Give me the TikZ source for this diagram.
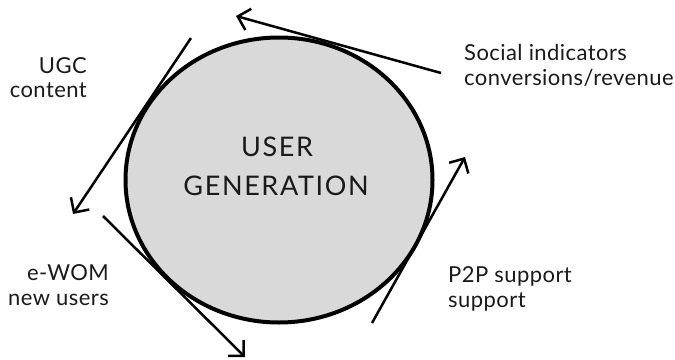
\documentclass[tikz,border=0pt]{standalone}
\usepackage{fontspec}
\setmainfont{Lato}
\usetikzlibrary{arrows.meta,shapes.geometric}
\definecolor{hubfill}{HTML}{D9D9D9}
\definecolor{txt}{HTML}{1A1A1A}
\tikzset{
  hub/.style={ellipse, draw=black, line width=4pt, fill=hubfill,
    minimum width=307pt, minimum height=285pt, inner sep=0pt},
  flow/.style={line width=2.5pt, -{Straight Barb[length=11pt,width=22pt,line width=2.5pt]}},
  lbl/.style={font=\fontsize{22}{25}\selectfont\addfontfeatures{LetterSpace=2}, text=txt, inner sep=0pt},
  hubtxt/.style={font=\fontsize{27}{39}\selectfont\addfontfeatures{LetterSpace=6}, text=txt, inner sep=0pt, anchor=base}
}
\begin{document}
\begin{tikzpicture}[x=1pt,y=-1pt]
\useasboundingbox (0,0) rectangle (675,359);
\node[hub] (hub) at (279,180) {};
\node[hubtxt] (t1) at (277,156.5) {USER};
\node[hubtxt] (t2) at (276,195.5) {GENERATION};
% connectors
\coordinate (s1) at (441,73);  \coordinate (e1) at (236,16);
\coordinate (s2) at (191,38);  \coordinate (e2) at (73,214);
\coordinate (s3) at (103,216); \coordinate (e3) at (245,357);
\coordinate (s4) at (372,323); \coordinate (e4) at (465,157);
\draw[flow] (s1) -- (e1);
\draw[flow] (s2) -- (e2);
\draw[flow] (s3) -- (e3);
\draw[flow] (s4) -- (e4);
% labels
\node[lbl,anchor=base east] (ugc1) at (87,73) {UGC};
\node[lbl,anchor=base east] (ugc2) at (87,97) {content};
\node[lbl,anchor=base west] (soc1) at (464,60) {Social indicators};
\node[lbl,anchor=base west] (soc2) at (464,85) {conversions/revenue};
\node[lbl,anchor=base east] (wom1) at (109,280) {e-WOM};
\node[lbl,anchor=base east] (wom2) at (109,305) {new users};
\node[lbl,anchor=base west] (p2p1) at (448,282) {P2P support};
\node[lbl,anchor=base west] (p2p2) at (448,307) {support};
\end{tikzpicture}
\end{document}
